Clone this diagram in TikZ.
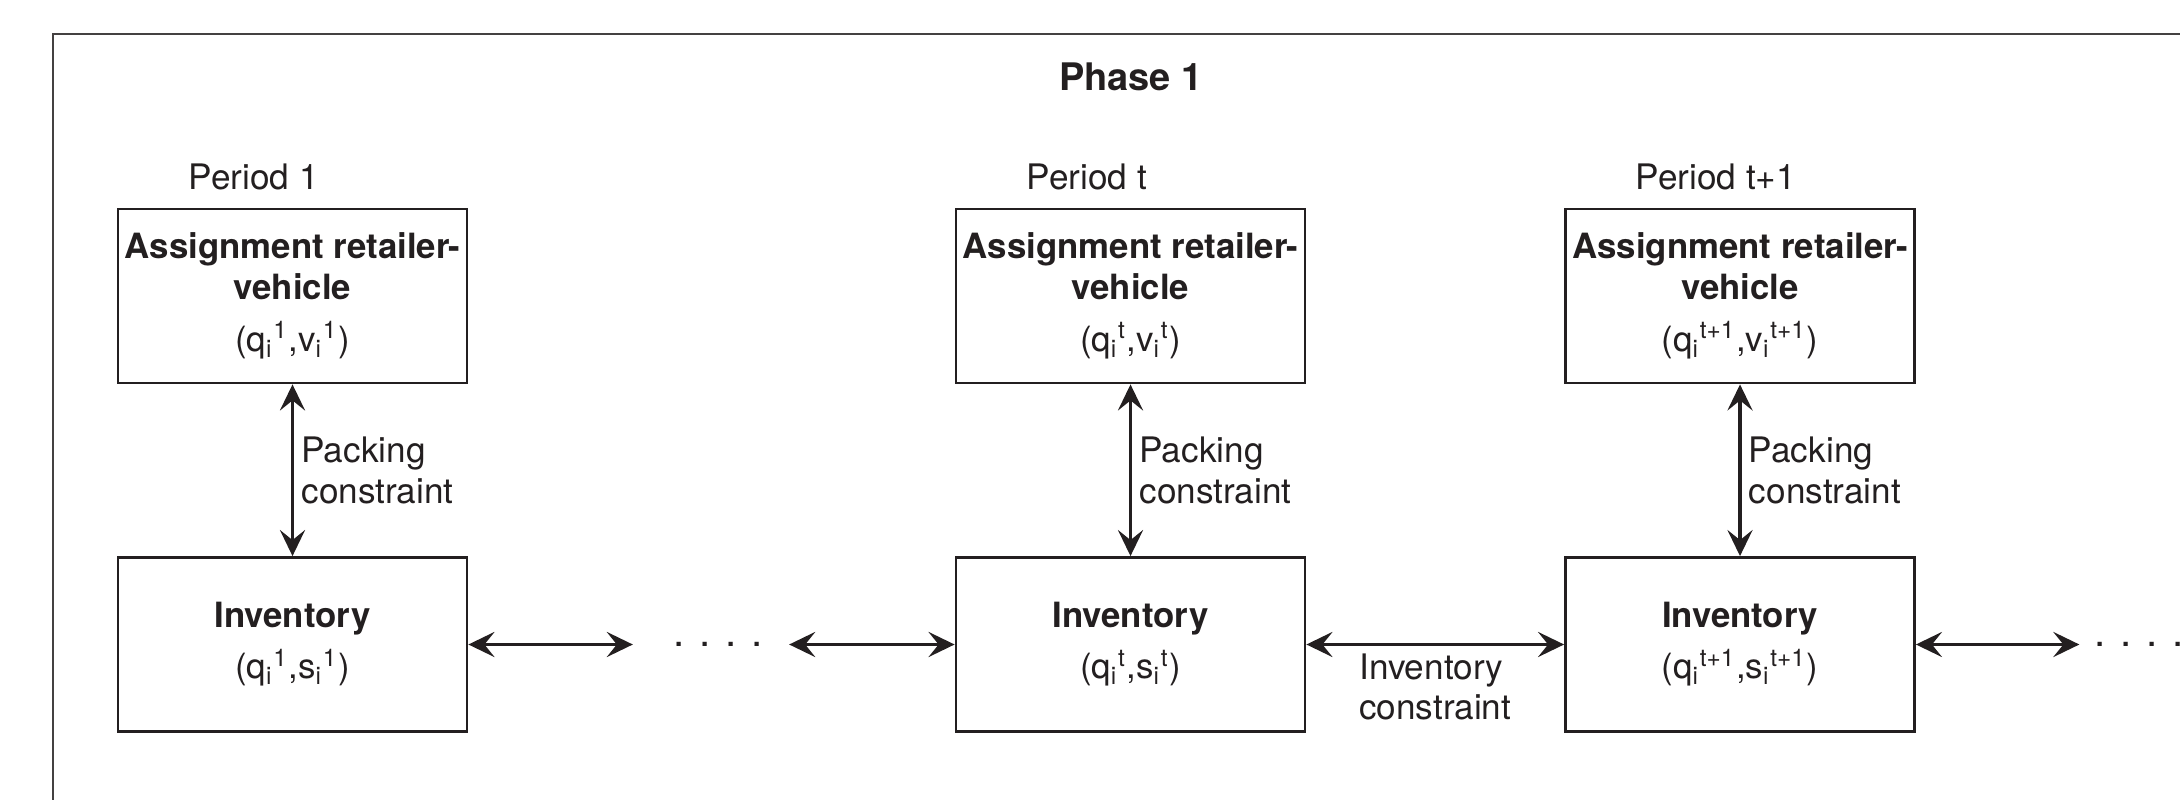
\documentclass[tikz,border=0pt]{standalone}
\usepackage{fontspec}
\setmainfont{TeX Gyre Heros}
\usepackage{tikz}
\usetikzlibrary{arrows.meta,positioning,calc}
\usepackage{xcolor}
\definecolor{ink}{RGB}{35,31,32}

\begin{document}
\begin{tikzpicture}[
    stage/.style={rectangle, draw=ink, line width=0.8pt, inner xsep=0.5mm,
                  minimum width=3.49cm, minimum height=1.74cm, align=center,
                  text=ink, font=\fontsize{9.9}{11.5}\selectfont},
    link/.style={{Stealth[length=2.6mm,width=2.5mm,inset=1mm]}-{Stealth[length=2.6mm,width=2.5mm,inset=1mm]},
                 line width=1.1pt, ink},
    lbl/.style={text=ink, align=left, inner sep=2pt, font=\fontsize{10}{11.5}\selectfont},
    gap/.style={text=ink, inner sep=0pt, font=\fontsize{11.5}{12}\selectfont},
    frame/.style={draw=ink!85, line width=0.6pt}
]
    \useasboundingbox (0,0) rectangle (21.8,-8);
    \draw[frame] (21.9,-0.34) -| (0.53,-8.1);

    \node[text=ink, font=\fontsize{10.8}{13}\selectfont\bfseries] (phase) at (11.31,-0.77) {Phase 1};

    \node[lbl, anchor=west] (per1) at (1.81,-1.77) {Period 1};
    \node[lbl, anchor=west] (pert) at (10.19,-1.77) {Period t};
    \node[lbl, anchor=west] (pernext) at (16.28,-1.77) {Period t+1};

    \node[stage] (assign1) at (2.925,-2.96) {\textbf{Assignment retailer-}\\\textbf{vehicle}\\[3.5pt](q\textsubscript{i}\textsuperscript{1},v\textsubscript{i}\textsuperscript{1})};
    \node[stage] (assignt) at (11.305,-2.96) {\textbf{Assignment retailer-}\\\textbf{vehicle}\\[3.5pt](q\textsubscript{i}\textsuperscript{t},v\textsubscript{i}\textsuperscript{t})};
    \node[stage] (assignnext) at (17.40,-2.96) {\textbf{Assignment retailer-}\\\textbf{vehicle}\\[3.5pt](q\textsubscript{i}\textsuperscript{t+1},v\textsubscript{i}\textsuperscript{t+1})};

    \node[stage] (inv1) at (2.925,-6.445) {\textbf{Inventory}\\[3pt](q\textsubscript{i}\textsuperscript{1},s\textsubscript{i}\textsuperscript{1})};
    \node[stage] (invt) at (11.305,-6.445) {\textbf{Inventory}\\[3pt](q\textsubscript{i}\textsuperscript{t},s\textsubscript{i}\textsuperscript{t})};
    \node[stage] (invnext) at (17.40,-6.445) {\textbf{Inventory}\\[3pt](q\textsubscript{i}\textsuperscript{t+1},s\textsubscript{i}\textsuperscript{t+1})};

    \node[gap] (gap1) at (7.18,-6.445) {. . . .};
    \node[gap] (gap2) at (21.39,-6.445) {. . . .};

    \draw[link] (assign1) -- node[lbl, right] {Packing\\constraint} (inv1);
    \draw[link] (assignt) -- node[lbl, right] {Packing\\constraint} (invt);
    \draw[link] (assignnext) -- node[lbl, right] {Packing\\constraint} (invnext);

    \draw[link, shorten >=3.95mm] (inv1) -- (gap1);
    \draw[link, shorten <=2.55mm] (gap1) -- (invt);
    \draw[link] (invt) -- node[lbl, below] {Inventory\\constraint} (invnext);
    \draw[link, shorten >=1.4mm] (invnext) -- (gap2);
\end{tikzpicture}
\end{document}
